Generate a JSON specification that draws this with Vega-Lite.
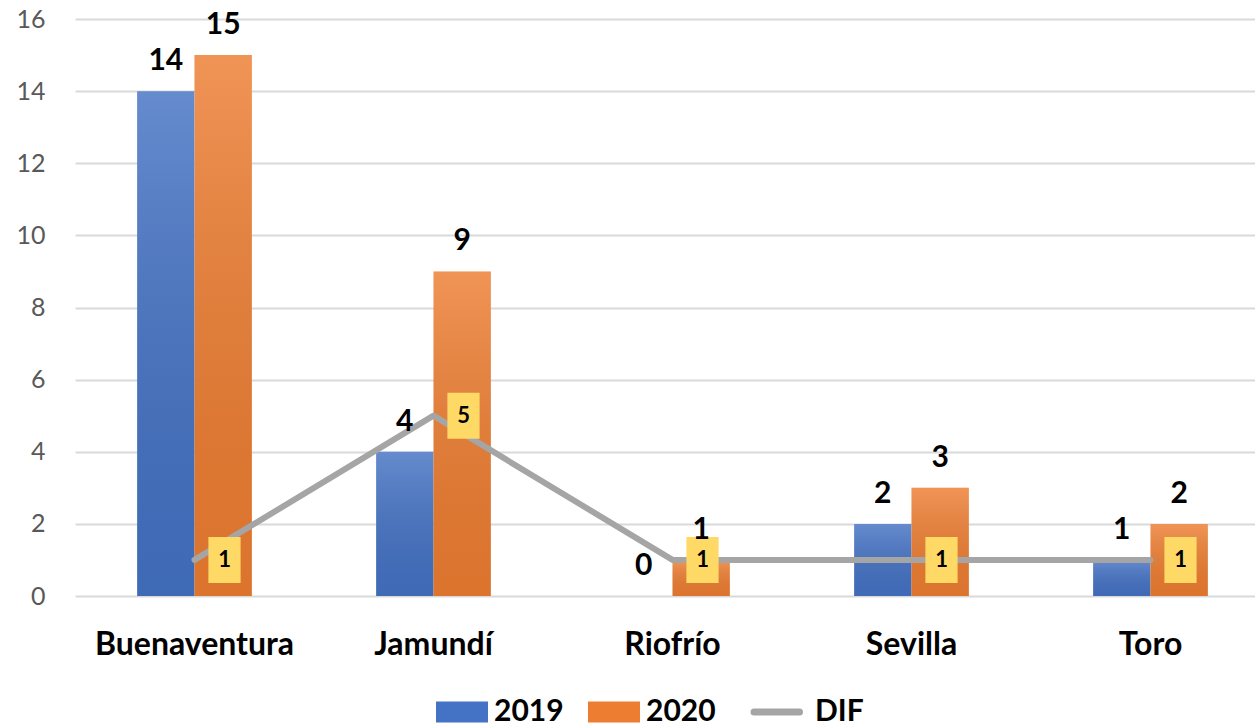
{
  "$schema": "https://vega.github.io/schema/vega-lite/v6.json",
  "width": 1180,
  "height": 577,
  "autosize": {"type": "none"},
  "padding": {"left": 75, "top": 19, "right": 0, "bottom": 130},
  "background": "#ffffff",
  "config": {
    "view": {"stroke": null},
    "font": "Lato"
  },
  "data": {
    "values": [
      {"city": "Buenaventura", "series": "2019", "value": 14},
      {"city": "Buenaventura", "series": "2020", "value": 15},
      {"city": "Buenaventura", "series": "DIF", "value": 1},
      {"city": "Jamundí", "series": "2019", "value": 4},
      {"city": "Jamundí", "series": "2020", "value": 9},
      {"city": "Jamundí", "series": "DIF", "value": 5},
      {"city": "Riofrío", "series": "2019", "value": 0},
      {"city": "Riofrío", "series": "2020", "value": 1},
      {"city": "Riofrío", "series": "DIF", "value": 1},
      {"city": "Sevilla", "series": "2019", "value": 2},
      {"city": "Sevilla", "series": "2020", "value": 3},
      {"city": "Sevilla", "series": "DIF", "value": 1},
      {"city": "Toro", "series": "2019", "value": 1},
      {"city": "Toro", "series": "2020", "value": 2},
      {"city": "Toro", "series": "DIF", "value": 1}
    ]
  },
  "encoding": {
    "x": {
      "field": "city",
      "type": "nominal",
      "sort": null,
      "scale": {"range": [0, 1195], "paddingInner": 0.52, "paddingOuter": 0.26},
      "axis": {
        "title": null,
        "labelAngle": 0,
        "labelFontSize": 32,
        "labelFontWeight": "bold",
        "labelColor": "#000000",
        "labelPadding": 33,
        "labelLimit": 400,
        "ticks": false,
        "domain": false
      }
    },
    "y": {
      "field": "value",
      "type": "quantitative",
      "scale": {"domain": [0, 16]},
      "axis": {
        "title": null,
        "values": [0, 2, 4, 6, 8, 10, 12, 14, 16],
        "labelFontSize": 25,
        "labelColor": "#595959",
        "labelPadding": 30,
        "ticks": false,
        "domain": false,
        "gridColor": "#d9d9d9",
        "gridWidth": 2
      }
    }
  },
  "layer": [
    {
      "transform": [{"filter": "datum.series !== 'DIF'"}],
      "mark": {"type": "bar"},
      "encoding": {
        "xOffset": {"field": "series", "type": "nominal", "scale": {"domain": ["2019", "2020"]}},
        "color": {
          "field": "series",
          "type": "nominal",
          "scale": {"domain": ["2019", "2020", "DIF"], "range": ["#4472C4", "#ED7D31", "#A5A5A5"]},
          "legend": {
            "orient": "none",
            "legendX": 372,
            "legendY": 678,
            "direction": "horizontal",
            "title": null,
            "labelFontSize": 30,
            "labelFontWeight": "bold",
            "labelColor": "#000000",
            "labelOffset": 17,
            "symbolSize": 2704,
            "columnPadding": 24,
            "encode": {
              "symbols": {
                "update": {
                  "shape": {"signal": "datum.value === 'DIF' ? 'M-1,0L0.75,0' : 'M-1,-0.4L1,-0.4L1,0.4L-1,0.4Z'"},
                  "stroke": {"signal": "datum.value === 'DIF' ? '#A5A5A5' : null"},
                  "strokeWidth": {"signal": "datum.value === 'DIF' ? 7 : 0"},
                  "strokeCap": {"value": "round"},
                  "opacity": {"value": 1},
                  "fillOpacity": {"value": 1}
                }
              },
              "labels": {
                "update": {
                  "dx": {"signal": "datum.value === 'DIF' ? 3 : 0"}
                }
              }
            }
          }
        }
      }
    },
    {
      "transform": [{"filter": "datum.series !== 'DIF'"}],
      "mark": {
        "type": "bar",
        "fill": {
          "gradient": "linear",
          "x1": 0, "y1": 0, "x2": 0, "y2": 1,
          "stops": [
            {"offset": 0, "color": "rgba(255,255,255,0.18)"},
            {"offset": 1, "color": "rgba(0,0,0,0.07)"}
          ]
        }
      },
      "encoding": {
        "xOffset": {"field": "series", "type": "nominal", "scale": {"domain": ["2019", "2020"]}}
      }
    },
    {
      "transform": [{"filter": "datum.series === 'DIF'"}],
      "mark": {"type": "line", "strokeWidth": 6, "strokeCap": "round", "strokeJoin": "round"},
      "encoding": {
        "color": {"field": "series", "type": "nominal"}
      }
    },
    {
      "transform": [{"filter": "datum.series === 'DIF'"}],
      "mark": {
        "type": "point",
        "shape": "M-0.7,-1L0.7,-1L0.7,1L-0.7,1Z",
        "size": 2116,
        "filled": true,
        "fill": "#FFD966",
        "opacity": 1,
        "xOffset": 30
      },
      "encoding": {}
    },
    {
      "transform": [{"filter": "datum.series === 'DIF'"}],
      "mark": {
        "type": "text",
        "xOffset": 30,
        "fontSize": 22,
        "fontWeight": "bold",
        "color": "#000000",
        "baseline": "middle",
        "align": "center"
      },
      "encoding": {"text": {"field": "value", "type": "quantitative"}}
    },
    {
      "transform": [{"filter": "datum.series !== 'DIF'"}],
      "mark": {
        "type": "text",
        "fontSize": 30,
        "fontWeight": "bold",
        "color": "#000000",
        "baseline": "alphabetic",
        "align": "center",
        "dy": -21
      },
      "encoding": {
        "xOffset": {"field": "series", "type": "nominal", "scale": {"domain": ["2019", "2020"]}},
        "text": {"field": "value", "type": "quantitative"}
      }
    }
  ]
}
